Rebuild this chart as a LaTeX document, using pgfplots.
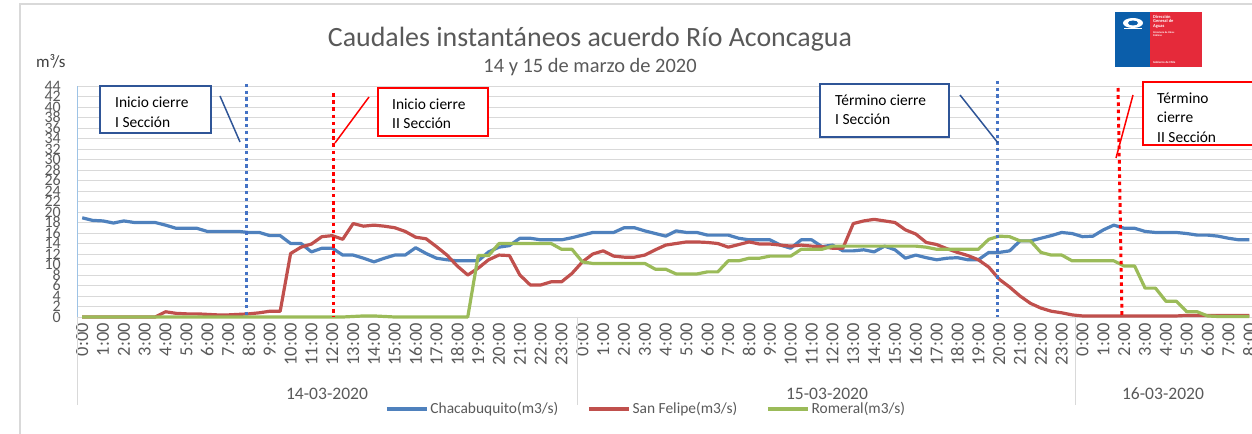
\documentclass[border=0pt]{standalone}
\usepackage{fontspec}
\setmainfont{Carlito}
\usepackage{pgfplots}
\pgfplotsset{compat=1.18}
\usepackage{pgfplotstable}

\definecolor{cblue}{HTML}{4F81BD}
\definecolor{cred}{HTML}{C0504D}
\definecolor{cgreen}{HTML}{9BBB59}
\definecolor{txtgray}{HTML}{595959}
\definecolor{gridgray}{HTML}{D9D9D9}
\definecolor{axblue}{HTML}{9DC3E6}
\definecolor{boxblue}{HTML}{2F5597}
\definecolor{dotblue}{HTML}{4472C4}
\definecolor{logoblue}{HTML}{0B5EAA}
\definecolor{logored}{HTML}{E52A3A}

\pgfplotstableread{
h c s r
0.0 18.9 0 0
0.5 18.4 0 0
1.0 18.3 0 0
1.5 17.9 0 0
2.0 18.3 0 0
2.5 18.0 0 0
3.0 18.0 0 0
3.5 18.0 0 0
4.0 17.5 1.0 0
4.5 16.9 0.7 0
5.0 16.9 0.6 0
5.5 16.9 0.6 0
6.0 16.3 0.5 0
6.5 16.3 0.4 0
7.0 16.3 0.4 0
7.5 16.3 0.5 0
8.0 16.1 0.6 0
8.5 16.1 0.8 0
9.0 15.5 1.1 0
9.5 15.5 1.1 0
10.0 14.0 12.1 0
10.5 14.0 13.3 0
11.0 12.4 13.9 0
11.5 13.1 15.3 0
12.0 13.1 15.5 0
12.5 11.8 14.8 0
13.0 11.8 17.8 0.1
13.5 11.2 17.3 0.2
14.0 10.5 17.5 0.2
14.5 11.2 17.3 0.1
15.0 11.8 17.0 0
15.5 11.8 16.3 0
16.0 13.2 15.2 0
16.5 12.1 14.9 0
17.0 11.2 13.4 0
17.5 10.9 11.8 0
18.0 10.7 9.7 0
18.5 10.7 8.0 0
19.0 10.7 9.3 11.7
19.5 12.4 10.9 11.7
20.0 13.3 11.8 14.0
20.5 13.6 11.7 14.0
21.0 15.0 8.0 14.0
21.5 15.0 6.1 14.0
22.0 14.7 6.1 14.0
22.5 14.7 6.7 14.0
23.0 14.7 6.7 12.9
23.5 15.1 8.3 12.9
24.0 15.6 10.5 10.5
24.5 16.1 12.0 10.2
25.0 16.1 12.6 10.2
25.5 16.1 11.6 10.2
26.0 17.0 11.4 10.2
26.5 17.0 11.4 10.2
27.0 16.4 11.8 10.2
27.5 15.9 12.8 9.1
28.0 15.4 13.7 9.1
28.5 16.4 14.0 8.2
29.0 16.1 14.3 8.2
29.5 16.1 14.3 8.2
30.0 15.6 14.2 8.6
30.5 15.6 14.0 8.6
31.0 15.6 13.3 10.7
31.5 15.0 13.8 10.7
32.0 14.7 14.3 11.2
32.5 14.7 13.9 11.2
33.0 14.7 13.9 11.6
33.5 13.7 13.7 11.6
34.0 13.1 13.5 11.6
34.5 14.7 13.7 12.9
35.0 14.7 13.5 12.9
35.5 13.4 13.4 12.9
36.0 13.7 13.1 13.5
36.5 12.6 13.1 13.5
37.0 12.6 17.8 13.5
37.5 12.8 18.3 13.5
38.0 12.4 18.6 13.5
38.5 13.5 18.3 13.5
39.0 12.8 18.0 13.5
39.5 11.2 16.6 13.5
40.0 11.8 15.8 13.5
40.5 11.3 14.2 13.3
41.0 10.9 13.8 12.9
41.5 11.2 13.0 12.9
42.0 11.3 12.3 12.9
42.5 10.9 11.7 12.9
43.0 10.9 10.9 12.9
43.5 12.3 9.5 14.8
44.0 12.3 7.2 15.4
44.5 12.6 5.7 15.3
45.0 14.5 4.0 14.5
45.5 14.5 2.6 14.5
46.0 15.0 1.7 12.3
46.5 15.5 1.1 11.8
47.0 16.1 0.8 11.8
47.5 15.9 0.4 10.7
48.0 15.3 0.2 10.7
48.5 15.4 0.2 10.7
49.0 16.6 0.2 10.7
49.5 17.5 0.2 10.7
50.0 16.9 0.2 9.7
50.5 16.9 0.2 9.7
51.0 16.3 0.2 5.5
51.5 16.1 0.2 5.5
52.0 16.1 0.2 3.0
52.5 16.1 0.2 3.0
53.0 15.9 0.3 1.0
53.5 15.6 0.3 1.0
54.0 15.6 0.3 0.2
54.5 15.4 0.3 0.1
55.0 15.0 0.3 0.1
55.5 14.7 0.3 0.1
56.0 14.7 0.3 0.1
}\flowdata

\begin{document}
\begin{tikzpicture}
\begin{axis}[
  at={(77bp,-317bp)}, anchor=south west,
  scale only axis, width=1177.5bp, height=231bp,
  xmin=-0.25, xmax=56.25, ymin=0, ymax=44,
  axis x line*=bottom, axis y line*=left,
  x axis line style={-, draw=gridgray, line width=1bp},
  y axis line style={-, draw=axblue, line width=1bp},
  ytick={0,2,...,44},
  xtick={0,1,...,56},
  xticklabels={0:00,1:00,2:00,3:00,4:00,5:00,6:00,7:00,8:00,9:00,10:00,11:00,12:00,13:00,14:00,15:00,16:00,17:00,18:00,19:00,20:00,21:00,22:00,23:00,0:00,1:00,2:00,3:00,4:00,5:00,6:00,7:00,8:00,9:00,10:00,11:00,12:00,13:00,14:00,15:00,16:00,17:00,18:00,19:00,20:00,21:00,22:00,23:00,0:00,1:00,2:00,3:00,4:00,5:00,6:00,7:00,8:00},
  ymajorgrids, grid style={draw=gridgray, line width=1bp},
  major tick length=0pt, tick style={draw=none},
  /pgf/number format/assume math mode=true,
  yticklabel style={font=\fontsize{16}{16}\selectfont, text=txtgray, anchor=east, inner sep=0pt, xshift=-16bp},
  xticklabel style={font=\fontsize{18.5}{19}\selectfont, text=txtgray, rotate=90, anchor=east, inner ysep=0pt, inner xsep=6bp},
  clip=false,
  legend columns=3,
  legend style={at={(0.2616,-0.398)}, anchor=west, draw=none, fill=none, inner sep=0pt,
    font=\fontsize{15.5}{18}\selectfont, nodes={text=txtgray, inner xsep=2bp, inner ysep=1bp},
    /tikz/every even column/.append style={column sep=27bp}},
  legend image code/.code={\draw[#1] (0bp,0bp) -- (40bp,0bp);},
  every axis plot/.append style={line width=3.2bp, line join=round},
]
\addplot[cblue, no markers] table[x=h,y=c]{\flowdata};
\addlegendentry{Chacabuquito(m3/s)}
\addplot[cred, no markers] table[x=h,y=s]{\flowdata};
\addlegendentry{San Felipe(m3/s)}
\addplot[cgreen, no markers] table[x=h,y=r]{\flowdata};
\addlegendentry{Romeral(m3/s)}
\end{axis}

\begin{scope}[x=1bp,y=-1bp]
  % outer frame
  \draw[gridgray, line width=1.5bp] (20,434) -- (20,4) -- (1260,4);
  % category group separators
  \draw[gridgray, line width=1bp] (77,317) -- (77,405) (577,317) -- (577,405) (1075,317) -- (1075,405);
  % date labels
  \node[font=\fontsize{17.6}{18}\selectfont, text=txtgray, anchor=base] at (327,400) {14-03-2020};
  \node[font=\fontsize{17.6}{18}\selectfont, text=txtgray, anchor=base] at (827,400) {15-03-2020};
  \node[font=\fontsize{17.6}{18}\selectfont, text=txtgray, anchor=base] at (1163,400) {16-03-2020};
  % titles
  \node[font=\fontsize{28}{28}\selectfont, text=txtgray, anchor=base] at (590,47) {Caudales instantáneos acuerdo Río Aconcagua};
  \node[font=\fontsize{20.5}{21}\selectfont, text=txtgray, anchor=base] at (590,73) {14 y 15 de marzo de 2020};
  \node[font=\fontsize{17}{17}\selectfont, text=black!75, anchor=base west, inner sep=0pt] at (36,68) {m³/s};
  % dotted event lines
  \draw[dotblue, line width=3bp, dash pattern=on 3.3bp off 3.4bp] (246,84) -- (246,317);
  \draw[red, line width=3bp, dash pattern=on 3.6bp off 3.6bp] (333,93) -- (333,317);
  \draw[dotblue, line width=3bp, dash pattern=on 3.3bp off 3.4bp] (997,81) -- (997,317);
  \draw[red, line width=3bp, dash pattern=on 3.6bp off 3.6bp] (1118,88) -- (1122,317);
  % connectors
  \draw[boxblue, line width=1.5bp] (220,96) -- (240,142);
  \draw[red, line width=1.5bp] (335,143) -- (369,97);
  \draw[boxblue, line width=1.5bp] (960,95) -- (998,143);
  \draw[red, line width=1.5bp] (1133,95) -- (1116,158);
  % boxes
  \draw[boxblue, line width=2bp, fill=white] (100,86) rectangle (211,133);
  \node[font=\fontsize{15.5}{18}\selectfont, anchor=base west, inner sep=0pt] at (115,108) {Inicio cierre};
  \node[font=\fontsize{15.5}{18}\selectfont, anchor=base west, inner sep=0pt] at (115,128) {I Sección};
  \draw[red, line width=2bp, fill=white] (378,88) rectangle (488,136);
  \node[font=\fontsize{15.5}{18}\selectfont, anchor=base west, inner sep=0pt] at (392,110) {Inicio cierre};
  \node[font=\fontsize{15.5}{18}\selectfont, anchor=base west, inner sep=0pt] at (392,129) {II Sección};
  \draw[boxblue, line width=2bp, fill=white] (820,84) rectangle (949,137);
  \node[font=\fontsize{15.5}{18}\selectfont, anchor=base west, inner sep=0pt] at (835,106) {Término cierre};
  \node[font=\fontsize{15.5}{18}\selectfont, anchor=base west, inner sep=0pt] at (835,125) {I Sección};
  \draw[red, line width=2bp, fill=white] (1143,82) rectangle (1270,145);
  \node[font=\fontsize{15.5}{18}\selectfont, anchor=base west, inner sep=0pt] at (1157,104) {Término};
  \node[font=\fontsize{15.5}{18}\selectfont, anchor=base west, inner sep=0pt] at (1157,123) {cierre};
  \node[font=\fontsize{15.5}{18}\selectfont, anchor=base west, inner sep=0pt] at (1157,143) {II Sección};
  % logo
  \fill[logoblue] (1115,12) rectangle (1150,67);
  \fill[logored] (1150,12) rectangle (1202,67);
  \fill[white] (1133,23) ellipse (10 and 5);
  \fill[logoblue] (1133,23) ellipse (5 and 2.5);
  \fill[white] (1124,28) rectangle (1142,29);
  \node[font=\fontsize{4.5}{4.6}\selectfont\bfseries, text=white, anchor=north west, align=left, inner sep=0pt] at (1153,15) {Dirección\\General de\\Aguas};
  \node[font=\fontsize{2.6}{3}\selectfont\bfseries, text=white, anchor=north west, align=left, inner sep=0pt] at (1153,31) {Ministerio de Obras\\Públicas};
  \node[font=\fontsize{3}{3}\selectfont\bfseries, text=white, anchor=north west, inner sep=0pt] at (1153,61) {Gobierno de Chile};
  \pgfresetboundingbox
  \path[use as bounding box] (0,0) rectangle (1252,434);
\end{scope}
\end{tikzpicture}
\end{document}
